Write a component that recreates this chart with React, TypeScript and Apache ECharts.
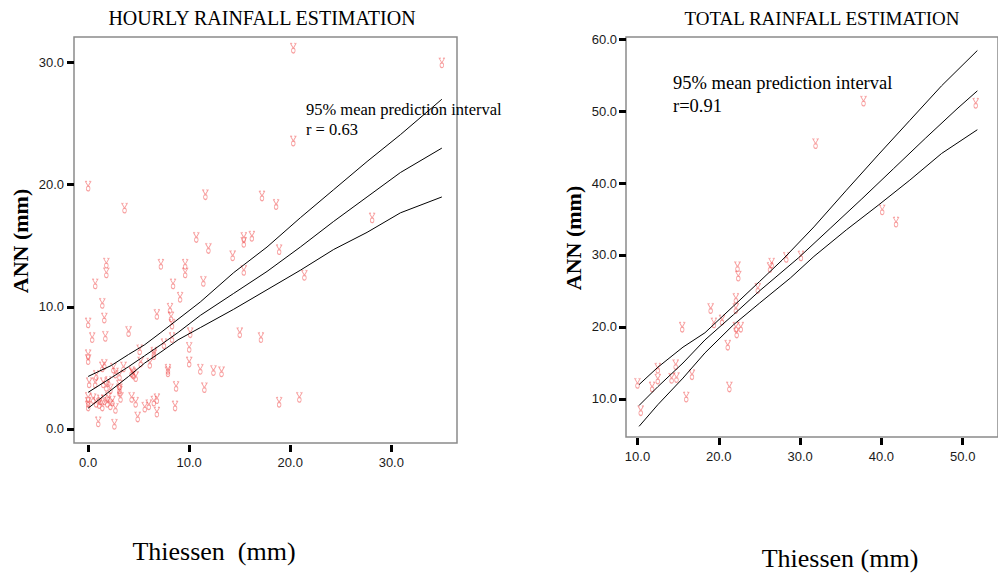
import React, { useEffect, useRef } from "react";
import * as echarts from "echarts";

// ---------- DATA ----------
const hourlyXTicks = [0, 10, 20, 30];
const hourlyYTicks = [0, 10, 20, 30];
const totalXTicks = [10, 20, 30, 40, 50];
const totalYTicks = [10, 20, 30, 40, 50, 60];

const hourlyPoints: [number, number][] = [
  [0, 19.9], [3.6, 18.1], [11.6, 19.2], [17.2, 19.1], [18.6, 18.4], [20.3, 31.2], [20.3, 23.6], [35.0, 30.0], [28.1, 17.3],
  [10.7, 15.7], [15.4, 15.7], [15.4, 15.3], [16.2, 15.8], [11.9, 14.8], [14.3, 14.2], [18.9, 14.7], [15.4, 13.0],
  [1.8, 13.6], [1.8, 12.8], [7.2, 13.5], [9.6, 13.5], [9.6, 12.8], [11.4, 12.1], [21.4, 12.6], [8.4, 11.9], [0.7, 11.9],
  [9.1, 10.8], [1.4, 10.3], [6.8, 9.4], [8.1, 9.9], [8.2, 9.2], [8.3, 8.6], [1.6, 9.1], [0, 8.7], [4.0, 8.0], [10.1, 7.9], [15.0, 7.9], [17.1, 7.5],
  [0.4, 7.5], [1.7, 7.6], [8.3, 7.5], [7.5, 7.0], [10.0, 6.7], [5.1, 6.5], [6.5, 6.3], [6.5, 6.1], [0, 6.1], [0, 5.7],
  [6.1, 5.4], [5.2, 5.5], [10.0, 5.5], [11.1, 4.9], [12.4, 4.8], [13.2, 4.7], [7.9, 4.9], [7.9, 4.7],
  [1.4, 5.1], [1.6, 5.3], [2.5, 5.0], [3.5, 5.1], [2.7, 4.6], [3.1, 4.4], [0.8, 4.4], [4.3, 4.7], [4.5, 4.5], [4.7, 4.3], [4.4, 4.6],
  [0.1, 3.8], [0.7, 3.8], [1.5, 3.8], [1.8, 3.5], [2.0, 3.9], [2.2, 3.3], [3.1, 3.6], [3.1, 3.3], [3.1, 3.1], [8.7, 3.5], [11.5, 3.4],
  [0, 2.6], [0, 2.2], [0, 1.9], [0.5, 2.5], [0.8, 2.2], [1.1, 2.1], [1.4, 1.9], [1.6, 2.4], [2.0, 2.6], [2.2, 2.0], [2.7, 1.7], [1.2, 2.4], [1.9, 2.2], [2.4, 2.3],
  [3.2, 2.6], [4.3, 2.6], [4.7, 2.2], [5.6, 1.8], [6.0, 2.0], [6.5, 2.3], [6.8, 2.5], [6.8, 1.4], [8.6, 1.9], [18.9, 2.2], [20.9, 2.6],
  [1.0, 0.6], [2.6, 0.4], [4.9, 1.0],
];

const hourlyUpper: [number, number][] = [
  [0, 4.3], [2.3, 5.2], [4.0, 6.1], [5.6, 6.9], [7.2, 7.9], [11.1, 10.4], [14.4, 12.8], [17.7, 14.9],
  [21.0, 17.3], [24.3, 19.6], [27.6, 21.9], [30.9, 24.1], [35.0, 27.0],
];
const hourlyFit: [number, number][] = [
  [0, 3.0], [2.3, 4.2], [4.0, 5.1], [5.6, 6.0], [7.2, 6.9], [8.9, 7.9], [11.1, 9.3], [14.4, 11.1],
  [17.7, 12.9], [21.0, 14.9], [24.3, 17.0], [27.6, 19.0], [30.9, 21.0], [35.0, 23.0],
];
const hourlyLower: [number, number][] = [
  [0, 1.7], [2.3, 3.2], [4.0, 4.3], [5.6, 5.4], [7.2, 6.3], [8.9, 7.3], [11.1, 8.3], [14.4, 9.8],
  [17.7, 11.4], [21.0, 13.0], [24.3, 14.7], [27.6, 16.1], [30.9, 17.7], [35.0, 19.0],
];

const totalPoints: [number, number][] = [
  [10.0, 12.2], [10.4, 8.4], [11.8, 11.7], [12.5, 14.3], [12.5, 12.8], [14.2, 12.9], [14.8, 13.0], [14.7, 14.8],
  [16.7, 13.4], [16.0, 10.3], [15.5, 20.0], [19.0, 22.6], [19.4, 20.6], [20.4, 21.0], [21.1, 17.5], [21.3, 11.7],
  [22.1, 24.0], [22.1, 22.6], [22.1, 20.0], [22.2, 19.2], [22.7, 20.0], [22.3, 28.4], [22.4, 27.1], [24.8, 25.4],
  [26.3, 28.3], [26.5, 28.9], [28.3, 29.7], [30.1, 29.9], [31.9, 45.5], [37.8, 51.4], [40.1, 36.3], [41.8, 34.6],
  [51.6, 51.1],
];

const totalUpper: [number, number][] = [
  [10.2, 12.0], [12.5, 14.4], [15.6, 17.2], [18.3, 19.2], [21.8, 22.9], [25.0, 26.3], [27.8, 29.3], [31.7, 33.9],
  [35.7, 39.0], [39.6, 43.9], [43.5, 48.7], [47.4, 53.5], [51.8, 58.4],
];
const totalFit: [number, number][] = [
  [10.2, 9.1], [12.5, 11.7], [15.6, 15.0], [18.3, 18.2], [21.8, 21.7], [25.0, 25.0], [29.8, 29.6], [33.7, 33.7],
  [37.6, 37.8], [41.5, 42.0], [45.4, 46.2], [49.3, 50.3], [51.8, 52.8],
];
const totalLower: [number, number][] = [
  [10.2, 6.2], [12.5, 9.2], [15.6, 12.9], [18.3, 16.4], [21.8, 20.3], [25.0, 23.3], [28.8, 26.8], [31.7, 29.8],
  [35.7, 33.5], [39.6, 36.9], [43.5, 40.4], [47.4, 44.1], [51.8, 47.4],
];

// ---------- STYLE ----------
const SERIF = "'Liberation Serif', 'Times New Roman', serif";
const SANS = "'Liberation Sans', Arial, sans-serif";
const GLYPH =
  "path://M0,0 L3,5 L6,0 M0.8,1.2 L1.8,0 M4.2,0 L5.2,1.2 M3,5 C0.6,5 0.6,9.6 3,9.6 C5.4,9.6 5.4,5 3,5 Z";

const fmt = (v: number) => v.toFixed(1);

function makeXAxis(grid: number, min: number, max: number, ticks: number[], offset: number, margin: number) {
  return {
    type: "value",
    gridIndex: grid,
    min,
    max,
    offset,
    axisLine: { show: false, onZero: false },
    axisTick: { show: true, length: 7, customValues: ticks, lineStyle: { color: "#000", width: 3 } },
    axisLabel: {
      customValues: ticks,
      formatter: fmt,
      margin,
      fontFamily: SANS,
      fontSize: 13,
      color: "#1a1a1a",
    },
    splitLine: { show: false },
  };
}

function makeYAxis(grid: number, min: number, max: number, ticks: number[], margin: number) {
  return {
    type: "value",
    gridIndex: grid,
    min,
    max,
    axisLine: { show: false, onZero: false },
    axisTick: { show: true, length: 7, customValues: ticks, lineStyle: { color: "#000", width: 3 } },
    axisLabel: {
      customValues: ticks,
      formatter: fmt,
      margin,
      fontFamily: SANS,
      fontSize: 13,
      color: "#1a1a1a",
    },
    splitLine: { show: false },
  };
}

function scatter(idx: number, data: [number, number][]) {
  return {
    type: "scatter",
    xAxisIndex: idx,
    yAxisIndex: idx,
    data,
    symbol: GLYPH,
    symbolSize: [6, 10],
    itemStyle: { color: "transparent", borderColor: "rgba(240,70,70,0.65)", borderWidth: 1 },
    emphasis: { disabled: true },
    silent: true,
    z: 2,
  };
}

function line(idx: number, data: [number, number][]) {
  return {
    type: "line",
    xAxisIndex: idx,
    yAxisIndex: idx,
    data,
    showSymbol: false,
    symbol: "none",
    lineStyle: { color: "#000", width: 1 },
    emphasis: { disabled: true },
    silent: true,
    z: 3,
  };
}

function txt(text: string, x: number, y: number, size: number, align: string, opts: any = {}) {
  return {
    type: "text",
    x,
    y,
    rotation: opts.rotation || 0,
    silent: true,
    style: {
      text,
      fontFamily: SERIF,
      fontSize: size,
      fontWeight: opts.bold ? "bold" : "normal",
      fill: "#000",
      align,
      textAlign: align,
      verticalAlign: "middle",
      textVerticalAlign: "middle",
    },
  };
}

export default function App() {
  const ref = useRef<HTMLDivElement>(null);

  useEffect(() => {
    if (!ref.current) return;
    const chart = echarts.init(ref.current, null, { renderer: "svg" });
    const option: any = {
      animation: false,
      backgroundColor: "#fff",
      grid: [
        { left: 74, top: 37, width: 383, height: 406, show: true, borderColor: "#8a8a8a", borderWidth: 1.5, backgroundColor: "transparent" },
        { left: 626, top: 37, width: 390, height: 400, show: true, borderColor: "#8a8a8a", borderWidth: 1.5, backgroundColor: "transparent" },
      ],
      xAxis: [
        makeXAxis(0, -1.4, 36.5, hourlyXTicks, 2, 11),
        makeXAxis(1, 8.59, 54.34, totalXTicks, 1, 12),
      ],
      yAxis: [
        makeYAxis(0, -1.15, 32.1, hourlyYTicks, 10),
        makeYAxis(1, 4.72, 60.28, totalYTicks, 9),
      ],
      series: [
        scatter(0, hourlyPoints),
        line(0, hourlyUpper),
        line(0, hourlyFit),
        line(0, hourlyLower),
        scatter(1, totalPoints),
        line(1, totalUpper),
        line(1, totalFit),
        line(1, totalLower),
      ],
      graphic: [
        txt("HOURLY RAINFALL ESTIMATION", 262, 18, 20, "center"),
        txt("TOTAL RAINFALL ESTIMATION", 822, 18, 19, "center"),
        txt("95% mean prediction interval", 306, 109, 16.5, "left"),
        txt("r = 0.63", 306, 129, 16.5, "left"),
        txt("95% mean prediction interval", 673, 83, 18.5, "left"),
        txt("r=0.91", 673, 106, 18.5, "left"),
        txt("ANN (mm)", 20, 241, 22, "center", { bold: true, rotation: Math.PI / 2 }),
        txt("ANN (mm)", 573, 238, 22, "center", { bold: true, rotation: Math.PI / 2 }),
        txt("Thiessen  (mm)", 214, 551, 26, "center"),
        txt("Thiessen (mm)", 840, 558, 26, "center"),
      ],
    };
    chart.setOption(option);
    return () => chart.dispose();
  }, []);

  return (
    <div
      ref={ref}
      style={{ position: "fixed", left: 0, top: 0, width: 998, height: 573, overflow: "hidden" }}
    />
  );
}
